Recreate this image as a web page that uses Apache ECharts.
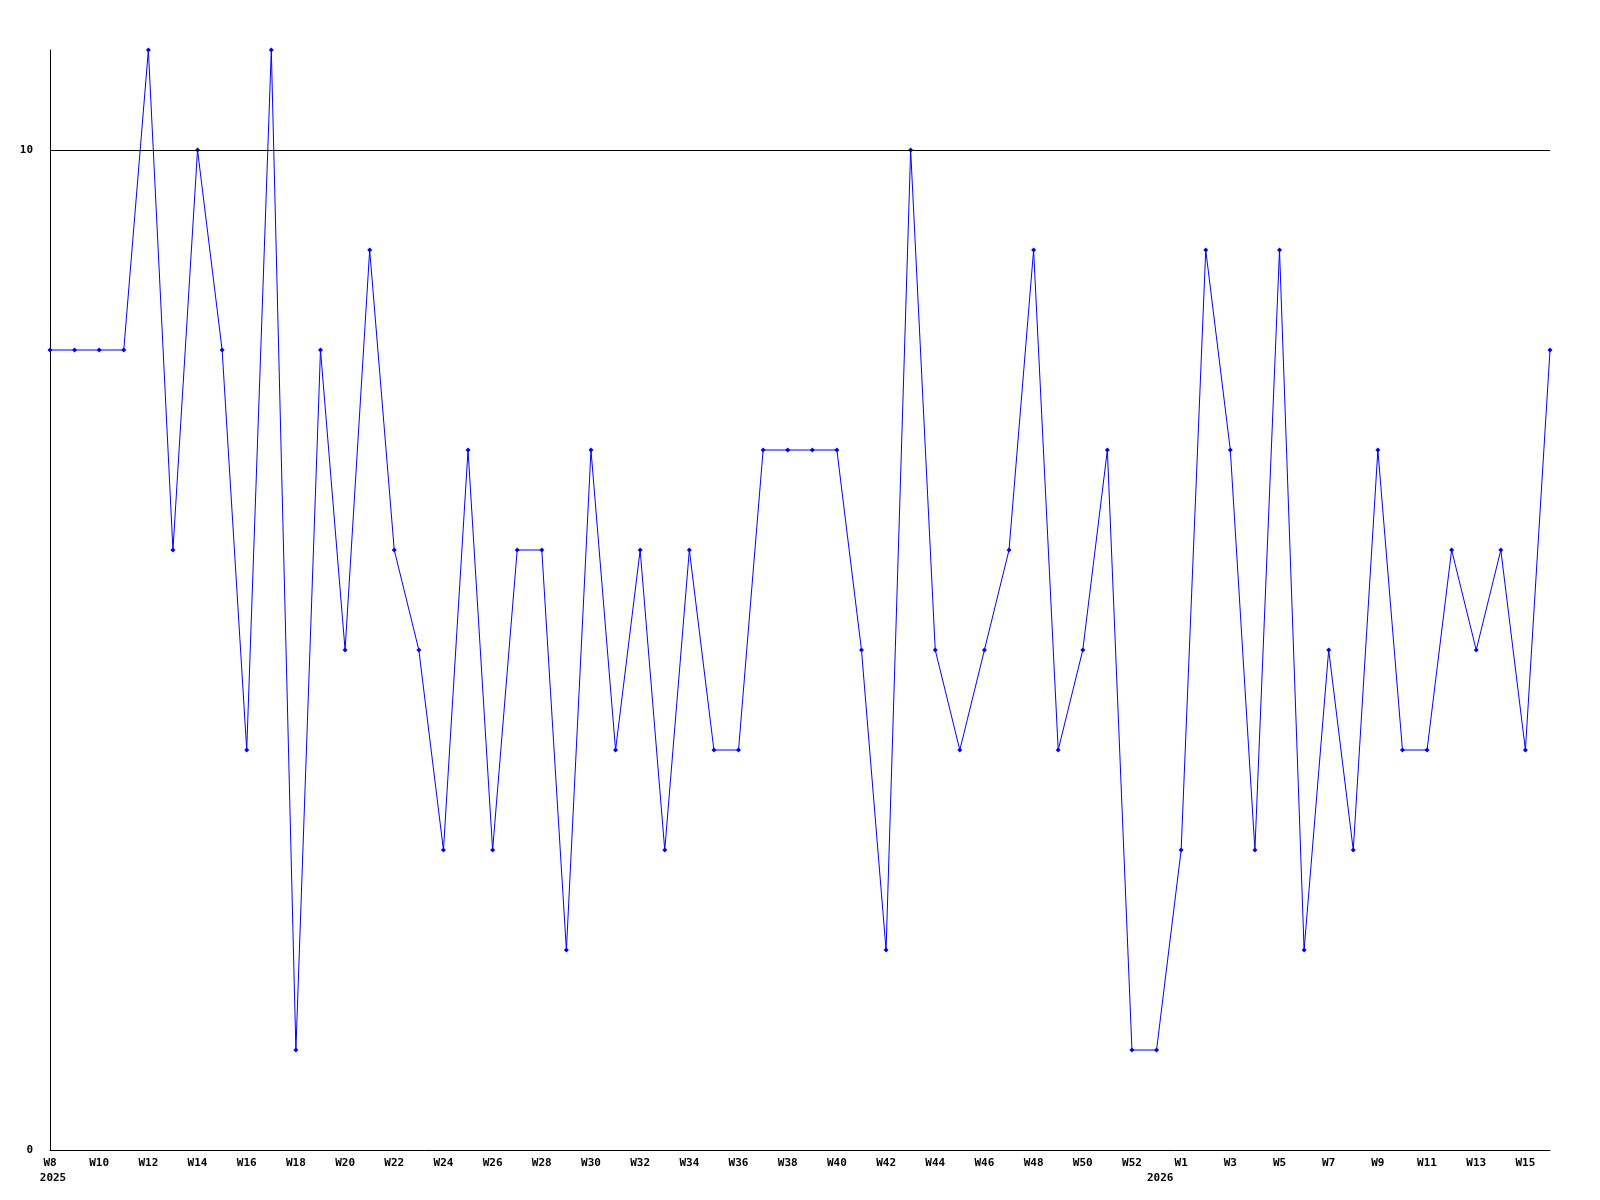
<!DOCTYPE html>
<html><head><meta charset="utf-8">
<script src="https://cdn.jsdelivr.net/npm/echarts@6/dist/echarts.min.js"></script>
<style>html,body{margin:0;padding:0;background:#fff}#c{width:1600px;height:1200px}</style>
</head><body><div id="c"></div>
<script>
const weeks = ["W8","W9","W10","W11","W12","W13","W14","W15","W16","W17","W18","W19","W20","W21","W22","W23","W24","W25","W26","W27","W28","W29","W30","W31","W32","W33","W34","W35","W36","W37","W38","W39","W40","W41","W42","W43","W44","W45","W46","W47","W48","W49","W50","W51","W52","W53",
"W1","W2","W3","W4","W5","W6","W7","W8","W9","W10","W11","W12","W13","W14","W15","W16"];
const values = [8,8,8,8,11,6,10,8,4,11,1,8,5,9,6,5,3,7,3,6,6,2,7,4,6,3,6,4,4,7,7,7,7,5,2,10,5,4,5,6,9,4,5,7,1,1,
3,9,7,3,9,2,5,3,7,4,4,6,5,6,4,8];
const yearLabels = {0:"2025", 46:"2026"};
const yTicks = [0, 10];

const font = {fontFamily:"DejaVu Sans Mono", fontWeight:"bold", fontSize:11, color:"#000"};
const chart = echarts.init(document.getElementById('c'));
chart.setOption({
  animation:false,
  grid:{left:50,right:50,top:50,bottom:50},
  xAxis:[{
    type:'category', data:weeks, boundaryGap:false,
    axisLine:{lineStyle:{color:'#000',width:1}}, axisTick:{show:false},
    axisLabel:Object.assign({interval:1, margin:8}, font),
    splitLine:{show:false}
  },{
    type:'category', data:weeks, boundaryGap:false, position:'bottom', offset:15,
    axisLine:{show:false}, axisTick:{show:false},
    axisLabel:Object.assign({interval:0, margin:8,
      formatter:(v,i)=> i===0 ? '{a|'+yearLabels[0]+'}' : (i===46 ? '{b|'+yearLabels[46]+'}' : ''),
      rich:{a:Object.assign({padding:[0,0,0,6]},font), b:Object.assign({padding:[0,42,0,0]},font)}
    }, font),
    splitLine:{show:false}
  }],
  yAxis:{
    type:'value', min:0, max:11, interval:10,
    axisLine:{show:true, lineStyle:{color:'#000',width:1}}, axisTick:{show:false},
    axisLabel:Object.assign({showMaxLabel:false, margin:17, formatter:v=> yTicks.indexOf(v)>=0 ? String(v) : ''}, font),
    splitLine:{show:false}
  },
  series:[{
    type:'line', data:values, xAxisIndex:0,
    lineStyle:{color:'#0000ff',width:1},
    itemStyle:{color:'#0000ff'},
    symbol:'diamond', symbolSize:5, showSymbol:true,
    markLine:{silent:true, symbol:['none','none'], label:{show:false},
      lineStyle:{color:'#000',type:'solid',width:1}, data:[{yAxis:10}]}
  }]
});
</script></body></html>
